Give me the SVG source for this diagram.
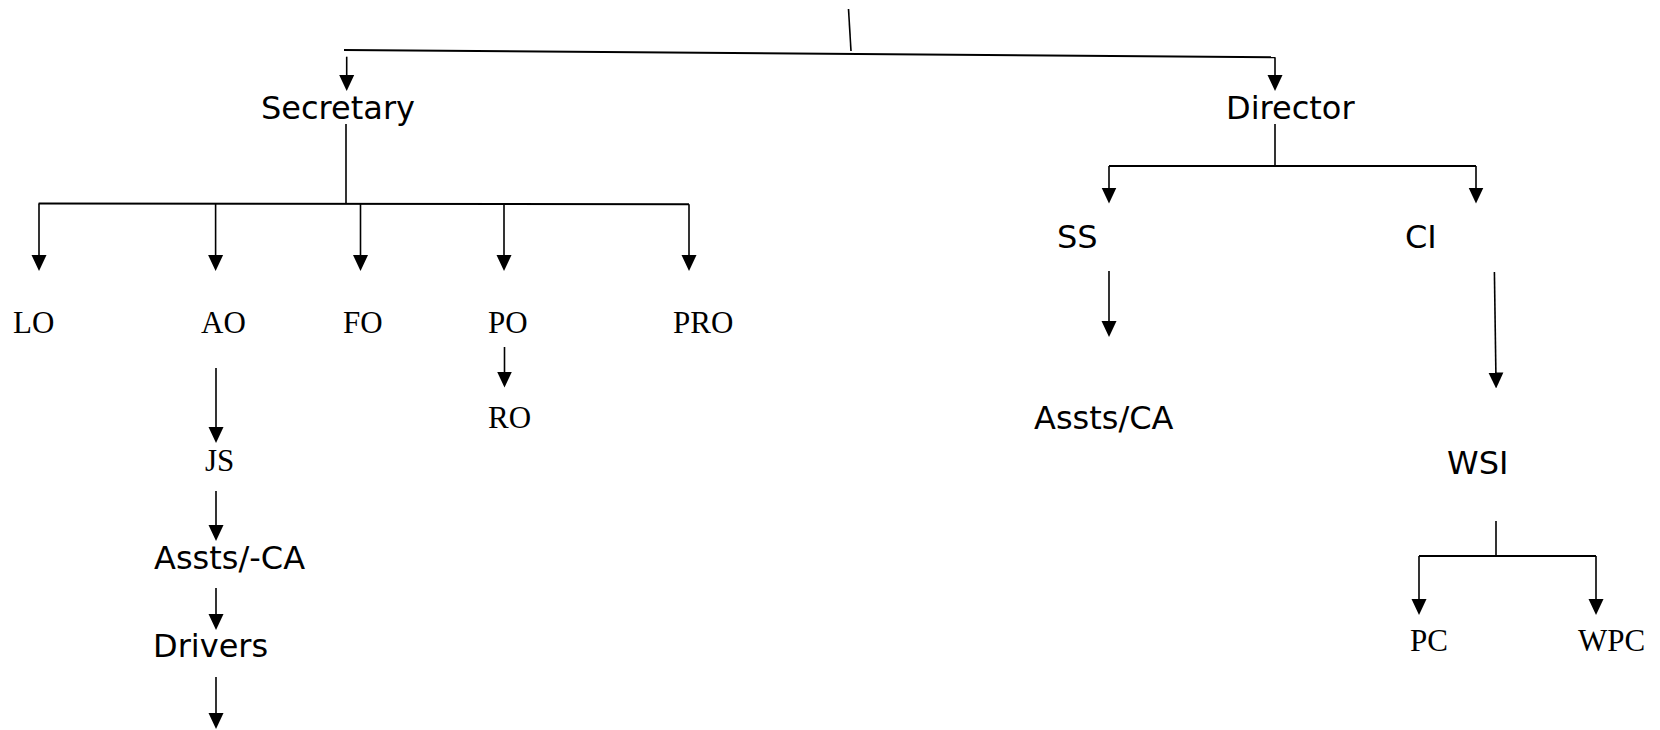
<svg xmlns="http://www.w3.org/2000/svg" width="1660" height="730" viewBox="0 0 1660 730">
<style>
  .sans { font-family: "DejaVu Sans", Verdana, sans-serif; font-size: 32px; fill: #000; }
  .serif { font-family: "Liberation Serif", "Times New Roman", serif; font-size: 31px; fill: #000; }
  .ln { stroke: #000; stroke-width: 1.6; fill: none; }
  .bar { stroke: #000; stroke-width: 2; fill: none; }
  .arr { stroke: #000; stroke-width: 1.6; fill: none; marker-end: url(#ah); }
</style>
<defs>
  <marker id="ah" markerUnits="userSpaceOnUse" markerWidth="16" markerHeight="16" refX="8" refY="8" orient="auto" viewBox="0 0 16 16">
    <path d="M0,0.5 L16,8 L0,15.5 z" fill="#000"/>
  </marker>
</defs>
<rect width="1660" height="730" fill="#fff"/>
<g id="connectors">
  <path class="ln" d="M848.5,9 L851,51"/>
  <path class="bar" d="M344,50 L1275,57.3"/>
  <path class="arr" d="M1275,57.3 L1275,83"/>
  <path class="arr" d="M346.7,56.7 L346.7,83"/>
  <path class="ln" d="M346,124 L346,203.5"/>
  <path class="bar" d="M38.6,203.5 L689,204.3"/>
  <path class="arr" d="M39,203.5 L39,263"/>
  <path class="arr" d="M215.6,203.7 L215.6,263"/>
  <path class="arr" d="M360.5,203.9 L360.5,263"/>
  <path class="arr" d="M504,204 L504,263"/>
  <path class="arr" d="M689,204.3 L689,263"/>
  <path class="arr" d="M504.5,347 L504.5,379.5"/>
  <path class="arr" d="M216,368 L216,435"/>
  <path class="arr" d="M216,491 L216,533"/>
  <path class="arr" d="M216,588 L216,622"/>
  <path class="arr" d="M216,677 L216,721"/>
  <path class="ln" d="M1275,124 L1275,166"/>
  <path class="bar" d="M1109,166 L1476,166"/>
  <path class="arr" d="M1109,166 L1109,195.5"/>
  <path class="arr" d="M1476,166 L1476,195.5"/>
  <path class="arr" d="M1109,271 L1109,329"/>
  <path class="arr" d="M1494.4,272 L1496,380.5"/>
  <path class="ln" d="M1496,521 L1496,556"/>
  <path class="bar" d="M1419,556 L1596,556"/>
  <path class="arr" d="M1419,556 L1419,607"/>
  <path class="arr" d="M1596,556 L1596,607"/>
</g>
<g id="node-secretary"><text class="sans" x="261" y="119.3">Secretary</text></g>
<g id="node-director"><text class="sans" x="1226" y="119.3">Director</text></g>
<g id="node-lo"><text class="serif" x="13" y="333">LO</text></g>
<g id="node-ao"><text class="serif" x="201" y="333">AO</text></g>
<g id="node-fo"><text class="serif" x="343" y="333">FO</text></g>
<g id="node-po"><text class="serif" x="488" y="333">PO</text></g>
<g id="node-pro"><text class="serif" x="673" y="333">PRO</text></g>
<g id="node-ss"><text class="sans" x="1057" y="248.3">SS</text></g>
<g id="node-ci"><text class="sans" x="1405" y="248.3">CI</text></g>
<g id="node-ro"><text class="serif" x="488" y="427.5">RO</text></g>
<g id="node-assts-ca"><text class="sans" x="1034" y="429.3">Assts/CA</text></g>
<g id="node-js"><text class="serif" x="205" y="470.7">JS</text></g>
<g id="node-wsi"><text class="sans" x="1447" y="474">WSI</text></g>
<g id="node-assts-ca2"><text class="sans" x="154" y="569.3">Assts/-CA</text></g>
<g id="node-pc"><text class="serif" x="1410" y="650.7">PC</text></g>
<g id="node-wpc"><text class="serif" x="1578" y="650.7">WPC</text></g>
<g id="node-drivers"><text class="sans" x="153" y="657.3">Drivers</text></g>
</svg>
